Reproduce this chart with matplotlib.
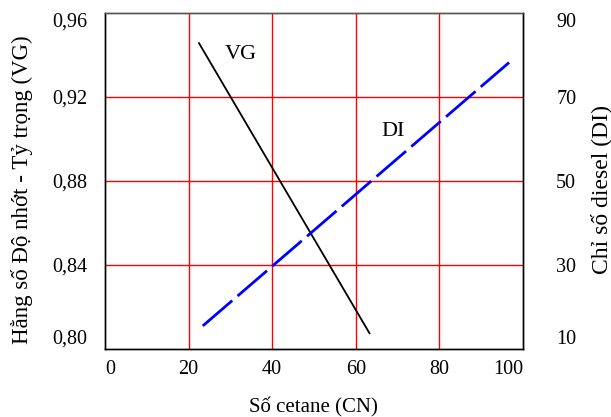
import matplotlib.pyplot as plt

# data
x_ticks = [0, 20, 40, 60, 80, 100]
vg_ticks = [0.80, 0.84, 0.88, 0.92, 0.96]
di_ticks = [10, 30, 50, 70, 90]

vg_cn = [22.5, 63.3]
vg_val = [0.9456, 0.8075]

di_cn = [23.4, 96.7]
di_val = [15.5, 78.2]

plt.rcParams['font.family'] = ['Liberation Serif', 'DejaVu Serif']

fig = plt.figure(figsize=(6.11, 4.17), dpi=100)
ax = fig.add_axes([0.1718, 0.163, 0.684, 0.806])
ax2 = ax.twinx()

# red grid (inner lines only)
for gx in x_ticks[1:-1]:
    ax.axvline(gx, color='#ff0000', lw=1.0, zorder=1)
for gy in vg_ticks[1:-1]:
    ax.axhline(gy, color='#ff0000', lw=1.0, zorder=1)

ax.plot(vg_cn, vg_val, color='black', lw=1.3, zorder=3)
ax2.plot(di_cn, di_val, color='#0000ff', lw=2.0, dashes=(14, 2.5), zorder=3)

ax.text(32.5, 0.940, 'VG', fontsize=16, ha='center', va='center')
ax.text(68.9, 0.9035, 'DI', fontsize=16, ha='center', va='center')

ax.set_xlim(0, 100)
ax.set_ylim(0.80, 0.96)
ax2.set_ylim(10, 90)

ax.set_xticks(x_ticks)
ax.set_yticks(vg_ticks)
ax2.set_yticks(di_ticks)
ax.set_xticklabels([str(v) for v in x_ticks])
ax.set_yticklabels([f'{v:.2f}'.replace('.', ',') for v in vg_ticks])
ax2.set_yticklabels([str(v) for v in di_ticks])

ax.tick_params(axis='x', length=0, pad=8, labelsize=14.5)
ax.tick_params(axis='y', length=0, pad=13, labelsize=14.5)
ax2.tick_params(axis='y', length=0, pad=24, labelsize=14.5)

# end labels pulled inward, as in the original
xl = ax.get_xticklabels()
xl[0].set_ha('left')
xl[-1].set_ha('right')
for a in (ax, ax2):
    yl = a.get_yticklabels()
    yl[0].set_va('bottom')
    yl[-1].set_va('top')

ax.set_xlabel('Số cetane (CN)', fontsize=15, va='center')
ax.set_ylabel('Hằng số Độ nhớt - Tỷ trọng (VG)', fontsize=16.5, va='center')
ax2.set_ylabel('Chỉ số diesel (DI)', fontsize=17, va='center')
ax.xaxis.set_label_coords(0.5, -0.173)
ax.yaxis.set_label_coords(-0.198, 0.475)
ax2.yaxis.set_label_coords(1.187, 0.475)

for a in (ax, ax2):
    for s in a.spines.values():
        s.set_linewidth(1.0)
        s.set_color('black')
    a.spines['top'].set_color('#555555')

fig.savefig('out.png', dpi=100)
